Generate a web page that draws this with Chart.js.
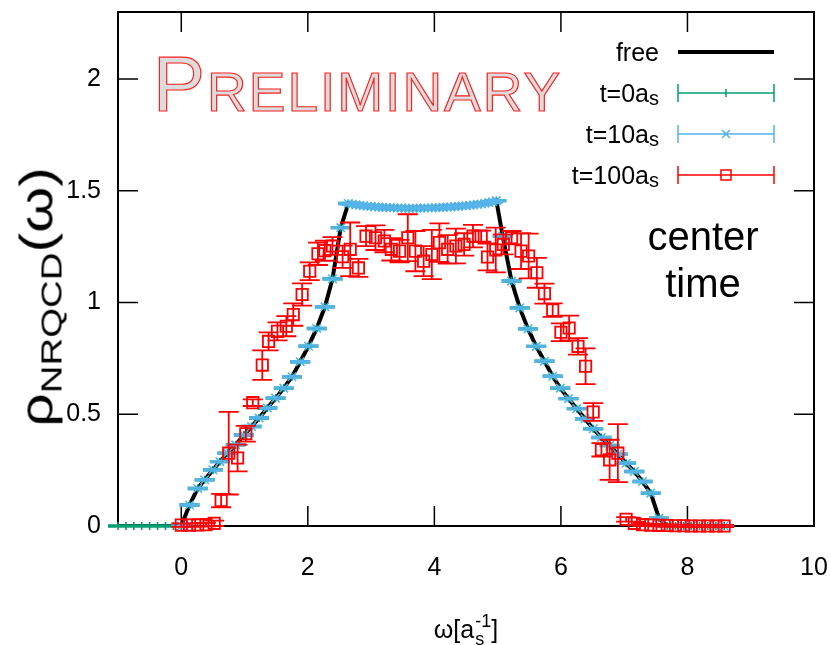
<!DOCTYPE html>
<html>
<head>
<meta charset="utf-8">
<script src="https://cdn.jsdelivr.net/npm/chart.js@4.4.1/dist/chart.umd.min.js"></script>
<style>
  html, body { margin: 0; padding: 0; background: #fff; }
  #wrap { position: relative; width: 831px; height: 645px; font-family: "Liberation Sans", Arial, sans-serif; color: #000; }
  #wrap canvas { position: absolute; left: 0; top: 0; }
  .txt { position: absolute; white-space: nowrap; }
  #prelim { left: 153px; top: 45px; font-size: 55px; line-height: 78px; letter-spacing: 2px;
            color: #dcdcdc; -webkit-text-stroke: 1.2px #f22; }
  #prelim .big { font-size: 78px; }
  #note { left: 603px; width: 200px; top: 213px; font-size: 40px; line-height: 47px; text-align: center; }
  .key { right: 172px; font-size: 25px; height: 30px; line-height: 30px; text-align: right; }
  .key sub { font-size: 20px; vertical-align: -3px; }
  #ytitle { left: 40px; top: 297px; font-size: 46px; line-height: 1; transform: translate(-50%, -50%) rotate(-90deg) scaleX(1.28); }
  #ytitle sub { font-size: 30px; vertical-align: -9px; }
  #xtitle { left: 466px; top: 614px; font-size: 25px; line-height: 30px; transform: translateX(-50%); }
  #xtitle .ss { display: inline-block; position: relative; width: 17px; height: 20px; }
  #xtitle .ss span { position: absolute; left: 1px; font-size: 18px; line-height: 18px; }
</style>
</head>
<body>
<div id="wrap">
  <canvas id="chart" width="831" height="645"></canvas>
  <div class="txt" id="prelim"><span class="big">P</span>RELIMINARY</div>
  <div class="txt" id="note">center<br>time</div>
  <div class="txt key" style="top:37px">free</div>
  <div class="txt key" style="top:78px">t=0a<sub>s</sub></div>
  <div class="txt key" style="top:119px">t=10a<sub>s</sub></div>
  <div class="txt key" style="top:160px">t=100a<sub>s</sub></div>
  <div class="txt" id="ytitle">ρ<sub>NRQCD</sub>(ω)</div>
  <div class="txt" id="xtitle">ω[a<span class="ss"><span style="top:-6px">-1</span><span style="top:12px">s</span></span>]</div>
</div>
<script>
// omega grid of the free / t=0 / t=10 curves
const omega = [
  -1.00, -0.875, -0.75, -0.625, -0.50, -0.375, -0.25, -0.125,
  0.00, 0.13, 0.26, 0.37, 0.50, 0.61, 0.73, 0.86, 0.99, 1.11, 1.23, 1.36, 1.49, 1.62, 1.75, 1.88, 2.01, 2.14, 2.27, 2.39, 2.52,
  2.64, 2.70, 2.76, 2.82, 2.88, 2.94, 3.00, 3.06, 3.12, 3.18, 3.24, 3.30, 3.36, 3.42, 3.48, 3.54, 3.60, 3.66, 3.72, 3.78,
  3.84, 3.90, 3.96, 4.02, 4.08, 4.14, 4.20, 4.26, 4.32, 4.38, 4.44, 4.50, 4.56, 4.62, 4.68, 4.74, 4.80, 4.86, 4.92, 4.98,
  5.08, 5.22, 5.35, 5.48, 5.61, 5.74, 5.87, 5.99, 6.12, 6.25, 6.38, 6.51, 6.64, 6.77, 6.90, 7.03, 7.16, 7.29, 7.42, 7.55,
  7.68, 7.81, 7.94, 8.06, 8.19, 8.32, 8.45, 8.58
];
const rhoFree = [
  0, 0, 0, 0, 0, 0, 0, 0,
  0, 0.094, 0.168, 0.207, 0.251, 0.288, 0.326, 0.363, 0.407, 0.445, 0.483, 0.528, 0.572, 0.617, 0.668, 0.735, 0.805, 0.884, 0.981, 1.106, 1.335,
  1.443, 1.440, 1.437, 1.435, 1.433, 1.431, 1.430, 1.428, 1.427, 1.426, 1.425, 1.424, 1.424, 1.423, 1.423, 1.422, 1.422, 1.422, 1.422, 1.422,
  1.423, 1.423, 1.424, 1.424, 1.425, 1.426, 1.427, 1.428, 1.429, 1.430, 1.432, 1.433, 1.435, 1.437, 1.439, 1.441, 1.444, 1.447, 1.451, 1.456,
  1.297, 1.096, 0.976, 0.882, 0.804, 0.737, 0.670, 0.617, 0.570, 0.525, 0.480, 0.435, 0.396, 0.360, 0.321, 0.281, 0.244, 0.199, 0.147, 0.035,
  0, 0, 0, 0, 0, 0, 0, 0
];
const rhoT0 = [
  0, 0, 0, 0, 0, 0, 0, 0,
  0, 0.094, 0.168, 0.207, 0.251, 0.288, 0.326, 0.363, 0.407, 0.445, 0.483, 0.528, 0.572, 0.617, 0.668, 0.735, 0.805, 0.884, 0.981, 1.106, 1.335,
  1.443, 1.440, 1.437, 1.435, 1.433, 1.431, 1.430, 1.428, 1.427, 1.426, 1.425, 1.424, 1.424, 1.423, 1.423, 1.422, 1.422, 1.422, 1.422, 1.422,
  1.423, 1.423, 1.424, 1.424, 1.425, 1.426, 1.427, 1.428, 1.429, 1.430, 1.432, 1.433, 1.435, 1.437, 1.439, 1.441, 1.444, 1.447, 1.451, 1.456,
  1.297, 1.096, 0.976, 0.882, 0.804, 0.737, 0.670, 0.617, 0.570, 0.525, 0.480, 0.435, 0.396, 0.360, 0.321, 0.281, 0.244, 0.199, 0.147, 0.035,
  0, 0, 0, 0, 0, 0, 0, 0
];
const rhoT10 = [
  null, null, null, null, null, null, null, null,
  0, 0.094, 0.168, 0.207, 0.251, 0.288, 0.326, 0.363, 0.407, 0.445, 0.483, 0.528, 0.572, 0.617, 0.668, 0.735, 0.805, 0.884, 0.981, 1.106, 1.335,
  1.443, 1.440, 1.437, 1.435, 1.433, 1.431, 1.430, 1.428, 1.427, 1.426, 1.425, 1.424, 1.424, 1.423, 1.423, 1.422, 1.422, 1.422, 1.422, 1.422,
  1.423, 1.423, 1.424, 1.424, 1.425, 1.426, 1.427, 1.428, 1.429, 1.430, 1.432, 1.433, 1.435, 1.437, 1.439, 1.441, 1.444, 1.447, 1.451, 1.456,
  1.297, 1.096, 0.976, 0.882, 0.804, 0.737, 0.670, 0.617, 0.570, 0.525, 0.480, 0.435, 0.396, 0.360, 0.321, 0.281, 0.244, 0.199, 0.147, 0.035,
  0, 0, 0, 0, 0, 0, 0, 0
];
const errT0 = 0.004;
const errT10 = 0.004;

// t=100as
const omegaT100 = [
  0.00, 0.13, 0.26, 0.39, 0.52, 0.63, 0.75, 0.89, 1.02, 1.13, 1.28, 1.38, 1.52, 1.66, 1.77, 1.91, 2.03, 2.16, 2.27, 2.39,
  2.55, 2.67, 2.80, 2.92, 3.07, 3.21, 3.32, 3.45, 3.58, 3.70, 3.83, 3.96, 4.08, 4.21, 4.34, 4.47, 4.61, 4.74, 4.84, 4.97,
  5.09, 5.22, 5.37, 5.49, 5.62, 5.74, 5.87, 6.00, 6.13, 6.27, 6.39, 6.51, 6.64, 6.77, 6.90, 7.03, 7.16, 7.29, 7.42, 7.55,
  7.68, 7.81, 7.94, 8.06, 8.19, 8.32, 8.45, 8.58
];
const rhoT100 = [
  0.004, 0.004, 0.005, 0.006, 0.012, 0.114, 0.326, 0.304, 0.413, 0.552, 0.720, 0.826, 0.871, 0.894, 0.946, 1.036, 1.140, 1.218, 1.232, 1.253,
  1.205, 1.238, 1.155, 1.297, 1.290, 1.275, 1.238, 1.230, 1.290, 1.230, 1.185, 1.215, 1.268, 1.238, 1.253, 1.260, 1.297, 1.297, 1.204, 1.235,
  1.260, 1.290, 1.230, 1.208, 1.133, 1.040, 0.966, 0.867, 0.886, 0.804, 0.715, 0.510, 0.341, 0.296, 0.326, 0.030, 0.012, 0.006, 0.004, 0.003,
  0.002, 0.001, 0.001, 0, 0, 0, 0, 0
];
const errT100 = [
  0.008, 0.008, 0.008, 0.008, 0.012, 0.030, 0.185, 0.060, 0.035, 0.015, 0.066, 0.040, 0.040, 0.045, 0.050, 0.050, 0.040, 0.050, 0.045, 0.040,
  0.050, 0.120, 0.040, 0.045, 0.055, 0.050, 0.050, 0.050, 0.105, 0.090, 0.067, 0.110, 0.086, 0.064, 0.078, 0.050, 0.050, 0.025, 0.060, 0.100,
  0.045, 0.030, 0.080, 0.100, 0.067, 0.045, 0.030, 0.040, 0.055, 0.037, 0.080, 0.040, 0.030, 0.090, 0.130, 0.010, 0.008, 0.006, 0.005, 0.005,
  0.005, 0.005, 0.005, 0.005, 0.005, 0.005, 0.005, 0.005
];

const xTicks = [0, 2, 4, 6, 8, 10];
const yTicks = [0, 0.5, 1, 1.5, 2];

const GREEN = '#009e73', BLUE = '#56b4e9', RED = '#ff0000';
const FONT = '"Liberation Sans", Arial, sans-serif';
const CAP = 10;

function pairs(xs, ys) {
  return xs.map((x, i) => ({ x: x, y: ys[i] }));
}

// gnuplot style frame with inward ticks on all four sides
const frameTicks = {
  id: 'frameTicks',
  beforeDatasetsDraw(chart) {
    const { ctx, chartArea: a, scales: { x, y } } = chart;
    ctx.save();
    ctx.strokeStyle = '#000';
    ctx.lineWidth = 1.5;
    ctx.beginPath();
    xTicks.forEach(v => {
      const px = x.getPixelForValue(v);
      ctx.moveTo(px, a.bottom); ctx.lineTo(px, a.bottom - 20);
      ctx.moveTo(px, a.top); ctx.lineTo(px, a.top + 20);
    });
    yTicks.forEach(v => {
      const py = y.getPixelForValue(v);
      ctx.moveTo(a.left, py); ctx.lineTo(a.left + 20, py);
      ctx.moveTo(a.right, py); ctx.lineTo(a.right - 20, py);
    });
    ctx.stroke();
    ctx.lineWidth = 2;
    ctx.strokeRect(a.left, a.top, a.right - a.left, a.bottom - a.top);
    ctx.restore();
  }
};

// vertical error bars with wide caps
const errorBars = {
  id: 'errorBars',
  beforeDatasetDraw(chart, args) {
    const ds = chart.data.datasets[args.index];
    if (ds.errorBars === undefined) return;
    const { ctx, scales: { x, y } } = chart;
    ctx.save();
    ctx.strokeStyle = ds.borderColor;
    ctx.lineWidth = ds.pointBorderWidth;
    ctx.beginPath();
    ds.data.forEach((p, i) => {
      if (p.y === null) return;
      const e = Array.isArray(ds.errorBars) ? ds.errorBars[i] : ds.errorBars;
      const px = x.getPixelForValue(p.x);
      const top = y.getPixelForValue(p.y + e);
      const bot = y.getPixelForValue(p.y - e);
      ctx.moveTo(px, top); ctx.lineTo(px, bot);
      ctx.moveTo(px - CAP, top); ctx.lineTo(px + CAP, top);
      ctx.moveTo(px - CAP, bot); ctx.lineTo(px + CAP, bot);
    });
    ctx.stroke();
    ctx.restore();
  }
};

// key samples (text is html)
const keySamples = {
  id: 'keySamples',
  afterDraw(chart) {
    const ctx = chart.ctx;
    const x0 = 678, x1 = 774, xm = 726;
    ctx.save();
    ctx.strokeStyle = '#000';
    ctx.lineWidth = 4;
    ctx.beginPath(); ctx.moveTo(x0, 52); ctx.lineTo(x1, 52); ctx.stroke();
    [[93, GREEN, 'plus'], [134, BLUE, 'x'], [175, RED, 'box']].forEach(([yy, c, m]) => {
      ctx.strokeStyle = c;
      ctx.lineWidth = 1.5;
      ctx.beginPath();
      ctx.moveTo(x0, yy); ctx.lineTo(x1, yy);
      ctx.moveTo(x0, yy - 9); ctx.lineTo(x0, yy + 9);
      ctx.moveTo(x1, yy - 9); ctx.lineTo(x1, yy + 9);
      if (m === 'plus') { ctx.moveTo(xm, yy - 4); ctx.lineTo(xm, yy + 4); }
      if (m === 'x') { ctx.moveTo(xm - 4, yy - 4); ctx.lineTo(xm + 4, yy + 4); ctx.moveTo(xm - 4, yy + 4); ctx.lineTo(xm + 4, yy - 4); }
      if (m === 'box') { ctx.rect(xm - 5, yy - 5, 10, 10); }
      ctx.stroke();
    });
    ctx.restore();
  }
};

new Chart(document.getElementById('chart'), {
  type: 'scatter',
  data: {
    datasets: [
      {
        label: 'free',
        data: pairs(omega, rhoFree),
        showLine: true,
        borderColor: '#000',
        borderWidth: 4,
        pointRadius: 0,
        order: 4
      },
      {
        label: 't=0as',
        data: pairs(omega, rhoT0),
        showLine: false,
        pointStyle: 'cross',
        pointRadius: 4,
        pointBorderWidth: 1.6,
        borderColor: GREEN,
        backgroundColor: GREEN,
        errorBars: errT0,
        clip: false,
        order: 3
      },
      {
        label: 't=10as',
        data: pairs(omega, rhoT10),
        showLine: false,
        pointStyle: 'crossRot',
        pointRadius: 6,
        pointBorderWidth: 1.6,
        borderColor: BLUE,
        backgroundColor: BLUE,
        errorBars: errT10,
        clip: false,
        order: 2
      },
      {
        label: 't=100as',
        data: pairs(omegaT100, rhoT100),
        showLine: false,
        pointStyle: 'rect',
        pointRadius: 8,
        pointBorderWidth: 1.8,
        borderColor: RED,
        backgroundColor: 'rgba(0,0,0,0)',
        errorBars: errT100,
        clip: false,
        order: 1
      }
    ]
  },
  options: {
    responsive: false,
    animation: false,
    events: [],
    layout: { padding: { top: 12, right: 17, left: 0, bottom: 0 } },
    plugins: { legend: { display: false }, tooltip: { enabled: false } },
    scales: {
      x: {
        type: 'linear',
        min: -1,
        max: 10,
        afterBuildTicks: s => { s.ticks = xTicks.map(v => ({ value: v })); },
        afterFit: s => { s.height = 119; s.paddingLeft = 0; s.paddingRight = 0; },
        grid: { display: false, drawTicks: false },
        border: { display: false },
        ticks: { color: '#000', font: { family: FONT, size: 25 }, padding: 27, maxRotation: 0, autoSkip: false, callback: v => String(v) }
      },
      y: {
        type: 'linear',
        min: 0,
        max: 2.3,
        afterBuildTicks: s => { s.ticks = yTicks.map(v => ({ value: v })); },
        afterFit: s => { s.width = 118; s.paddingTop = 0; s.paddingBottom = 0; },
        grid: { display: false, drawTicks: false },
        border: { display: false },
        ticks: { color: '#000', font: { family: FONT, size: 25 }, padding: 17, autoSkip: false, callback: v => String(v) }
      }
    }
  },
  plugins: [frameTicks, errorBars, keySamples]
});
</script>
</body>
</html>
